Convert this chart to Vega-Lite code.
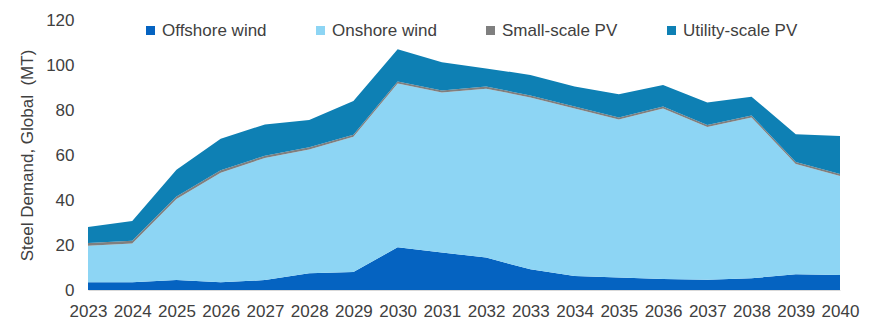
{
  "$schema": "https://vega.github.io/schema/vega-lite/v6.json",
  "autosize": {"type": "none"},
  "width": 752,
  "height": 270,
  "padding": {"left": 88, "top": 20, "right": 35, "bottom": 32},
  "background": "white",
  "config": {
    "font": "Liberation Sans",
    "view": {"stroke": null},
    "axis": {"labelFont": "Liberation Sans", "titleFont": "Liberation Sans"},
    "legend": {"labelFont": "Liberation Sans"}
  },
  "datasets": {
    "steel": [
      {"year": 2023, "source": "Offshore wind", "value": 3.4},
      {"year": 2024, "source": "Offshore wind", "value": 3.4},
      {"year": 2025, "source": "Offshore wind", "value": 4.4},
      {"year": 2026, "source": "Offshore wind", "value": 3.4},
      {"year": 2027, "source": "Offshore wind", "value": 4.4},
      {"year": 2028, "source": "Offshore wind", "value": 7.5},
      {"year": 2029, "source": "Offshore wind", "value": 8.0},
      {"year": 2030, "source": "Offshore wind", "value": 19.0},
      {"year": 2031, "source": "Offshore wind", "value": 16.7},
      {"year": 2032, "source": "Offshore wind", "value": 14.4},
      {"year": 2033, "source": "Offshore wind", "value": 9.2},
      {"year": 2034, "source": "Offshore wind", "value": 6.2},
      {"year": 2035, "source": "Offshore wind", "value": 5.6},
      {"year": 2036, "source": "Offshore wind", "value": 4.9},
      {"year": 2037, "source": "Offshore wind", "value": 4.6},
      {"year": 2038, "source": "Offshore wind", "value": 5.2},
      {"year": 2039, "source": "Offshore wind", "value": 7.0},
      {"year": 2040, "source": "Offshore wind", "value": 6.7},
      {"year": 2023, "source": "Onshore wind", "value": 16.3},
      {"year": 2024, "source": "Onshore wind", "value": 17.3},
      {"year": 2025, "source": "Onshore wind", "value": 36.0},
      {"year": 2026, "source": "Onshore wind", "value": 48.7},
      {"year": 2027, "source": "Onshore wind", "value": 54.3},
      {"year": 2028, "source": "Onshore wind", "value": 55.0},
      {"year": 2029, "source": "Onshore wind", "value": 60.1},
      {"year": 2030, "source": "Onshore wind", "value": 72.8},
      {"year": 2031, "source": "Onshore wind", "value": 71.1},
      {"year": 2032, "source": "Onshore wind", "value": 75.1},
      {"year": 2033, "source": "Onshore wind", "value": 76.4},
      {"year": 2034, "source": "Onshore wind", "value": 74.5},
      {"year": 2035, "source": "Onshore wind", "value": 70.2},
      {"year": 2036, "source": "Onshore wind", "value": 75.8},
      {"year": 2037, "source": "Onshore wind", "value": 67.8},
      {"year": 2038, "source": "Onshore wind", "value": 71.5},
      {"year": 2039, "source": "Onshore wind", "value": 49.0},
      {"year": 2040, "source": "Onshore wind", "value": 44.0},
      {"year": 2023, "source": "Small-scale PV", "value": 1.2},
      {"year": 2024, "source": "Small-scale PV", "value": 1.2},
      {"year": 2025, "source": "Small-scale PV", "value": 1.2},
      {"year": 2026, "source": "Small-scale PV", "value": 1.1},
      {"year": 2027, "source": "Small-scale PV", "value": 1.0},
      {"year": 2028, "source": "Small-scale PV", "value": 0.9},
      {"year": 2029, "source": "Small-scale PV", "value": 0.9},
      {"year": 2030, "source": "Small-scale PV", "value": 0.9},
      {"year": 2031, "source": "Small-scale PV", "value": 0.9},
      {"year": 2032, "source": "Small-scale PV", "value": 0.9},
      {"year": 2033, "source": "Small-scale PV", "value": 0.9},
      {"year": 2034, "source": "Small-scale PV", "value": 0.9},
      {"year": 2035, "source": "Small-scale PV", "value": 0.9},
      {"year": 2036, "source": "Small-scale PV", "value": 0.9},
      {"year": 2037, "source": "Small-scale PV", "value": 0.9},
      {"year": 2038, "source": "Small-scale PV", "value": 0.9},
      {"year": 2039, "source": "Small-scale PV", "value": 0.9},
      {"year": 2040, "source": "Small-scale PV", "value": 0.9},
      {"year": 2023, "source": "Utility-scale PV", "value": 7.1},
      {"year": 2024, "source": "Utility-scale PV", "value": 8.8},
      {"year": 2025, "source": "Utility-scale PV", "value": 11.8},
      {"year": 2026, "source": "Utility-scale PV", "value": 14.0},
      {"year": 2027, "source": "Utility-scale PV", "value": 13.9},
      {"year": 2028, "source": "Utility-scale PV", "value": 12.2},
      {"year": 2029, "source": "Utility-scale PV", "value": 15.0},
      {"year": 2030, "source": "Utility-scale PV", "value": 14.3},
      {"year": 2031, "source": "Utility-scale PV", "value": 12.5},
      {"year": 2032, "source": "Utility-scale PV", "value": 8.1},
      {"year": 2033, "source": "Utility-scale PV", "value": 9.1},
      {"year": 2034, "source": "Utility-scale PV", "value": 8.8},
      {"year": 2035, "source": "Utility-scale PV", "value": 10.3},
      {"year": 2036, "source": "Utility-scale PV", "value": 9.5},
      {"year": 2037, "source": "Utility-scale PV", "value": 10.0},
      {"year": 2038, "source": "Utility-scale PV", "value": 8.3},
      {"year": 2039, "source": "Utility-scale PV", "value": 12.3},
      {"year": 2040, "source": "Utility-scale PV", "value": 16.8}
    ]
  },
  "layer": [
    {
      "data": {"name": "steel"},
      "mark": {"type": "area", "interpolate": "linear"},
      "encoding": {
        "x": {
          "field": "year", "type": "quantitative",
          "scale": {"domain": [2023, 2040], "nice": false, "zero": false},
          "axis": {
            "title": null,
            "values": [2023,2024,2025,2026,2027,2028,2029,2030,2031,2032,2033,2034,2035,2036,2037,2038,2039,2040],
            "format": "d",
            "grid": false, "ticks": false,
            "domain": true, "domainColor": "#d9d9d9", "domainWidth": 1,
            "labelFontSize": 17, "labelColor": "#404040", "labelPadding": 13,
            "labelFlush": false, "labelOverlap": false
          }
        },
        "y": {
          "field": "value", "type": "quantitative", "stack": "zero",
          "scale": {"domain": [0, 120], "nice": false},
          "axis": {
            "title": "Steel Demand, Global\u00a0 (MT)",
            "titleFontSize": 17, "titleFontWeight": "normal", "titleColor": "#404040", "titlePadding": 9,
            "values": [0, 20, 40, 60, 80, 100, 120],
            "grid": false, "ticks": false, "domain": false,
            "labelFontSize": 17, "labelColor": "#404040", "labelPadding": 14
          }
        },
        "color": {
          "field": "source", "type": "nominal",
          "scale": {
            "domain": ["Offshore wind", "Onshore wind", "Small-scale PV", "Utility-scale PV"],
            "range": ["#0563C1", "#8DD5F4", "#7F7F7F", "#0E80B4"]
          },
          "legend": {
            "title": null, "orient": "none", "direction": "horizontal", "columns": 4,
            "legendX": 54, "legendY": 2, "padding": 0,
            "symbolType": "square", "symbolSize": 81, "symbolStrokeWidth": 0,
            "labelFontSize": 17, "labelColor": "#404040", "labelOffset": 3,
            "gridAlign": "none", "columnPadding": 45, "labelLimit": 200
          }
        },
        "order": {"field": "source", "type": "nominal", "sort": "ascending"}
      }
    },
    {
      "mark": {"type": "text", "align": "left", "baseline": "middle", "fontSize": 18.5, "fontWeight": "bold", "color": "#404040", "font": "Liberation Sans"},
      "encoding": {
        "x": {"datum": 2023.57},
        "y": {"datum": 91},
        "text": {"value": "+521 MT steel by 2030"}
      }
    },
    {
      "mark": {"type": "rule", "color": "#7b7fbf", "strokeWidth": 2},
      "encoding": {
        "x": {"datum": 2021.26},
        "x2": {"datum": 2040.5},
        "y": {"datum": 127.6}
      }
    }
  ]
}
